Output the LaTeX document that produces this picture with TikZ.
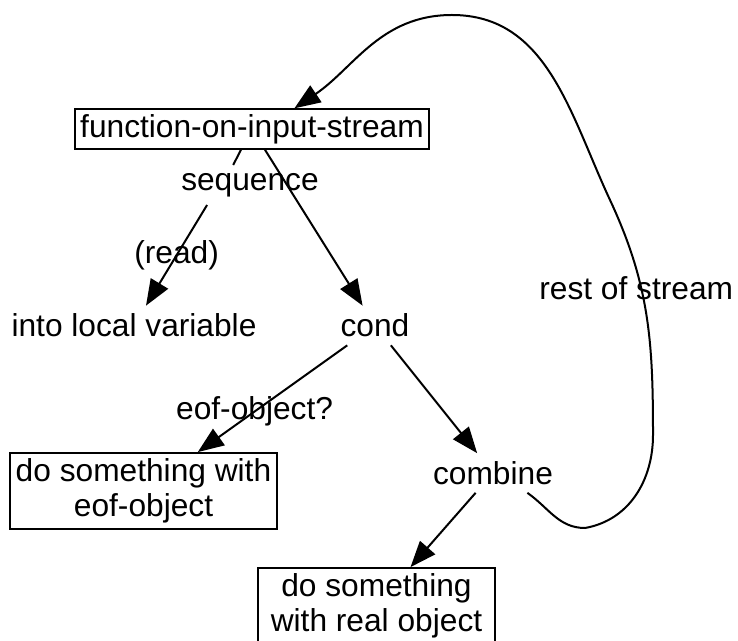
\documentclass[tikz,border=0pt]{standalone}
\usepackage{fontspec}
\setmainfont{Liberation Sans}
\usetikzlibrary{arrows.meta}

\begin{document}
\begin{tikzpicture}[x=1pt,y=1pt,font=\fontsize{31.7}{35}\selectfont]
\useasboundingbox (0,0) rectangle (738,640);
\begin{scope}[every node/.style={rectangle,draw,line width=1.8pt,align=center,inner sep=5pt}]
    \node[minimum width=351pt,minimum height=38pt] (fois) at (252,511) {function-on-input-stream};
    \node[minimum width=267pt,minimum height=76pt] (eof) at (143.5,149) {do something with\\eof-object};
    \node[minimum width=237pt,minimum height=76pt] (real) at (376.5,34) {do something\\with real object};
\end{scope}

\begin{scope}[every node/.style={inner sep=8pt}]
    \node (seq) at (250,455) {sequence};
    \node (into) at (134,314.5) {into local variable};
    \node (cond) at (375,314.5) {cond};
    \node (comb) at (493,167) {combine};
\end{scope}

\begin{scope}[>={Triangle[length=26pt,width=20pt]},
              every node/.style={inner sep=0pt},
              every edge/.style={draw,line width=2pt}]
    \path [-] (fois.242) edge (seq.130);
    \path [->] (seq.205) edge node {(read)} (into);
    \path [->] (fois) edge (cond);
    \path [->] (cond) edge node[pos=0.62] {eof-object?} (eof);
    \path [->] (cond) edge (comb);
    \path [->] (comb) edge (real);
    \draw [->,line width=2pt] (comb.-30) to[out=-35,in=180] (585,112)
        to[out=10,in=-90] (653,205)
        to[out=90,in=-65] node[pos=0.62,xshift=-5pt] {rest of stream} (610,440)
        to[out=115,in=0] (452,625)
        to[out=180,in=34] (fois.26);
\end{scope}
\end{tikzpicture}
\end{document}
